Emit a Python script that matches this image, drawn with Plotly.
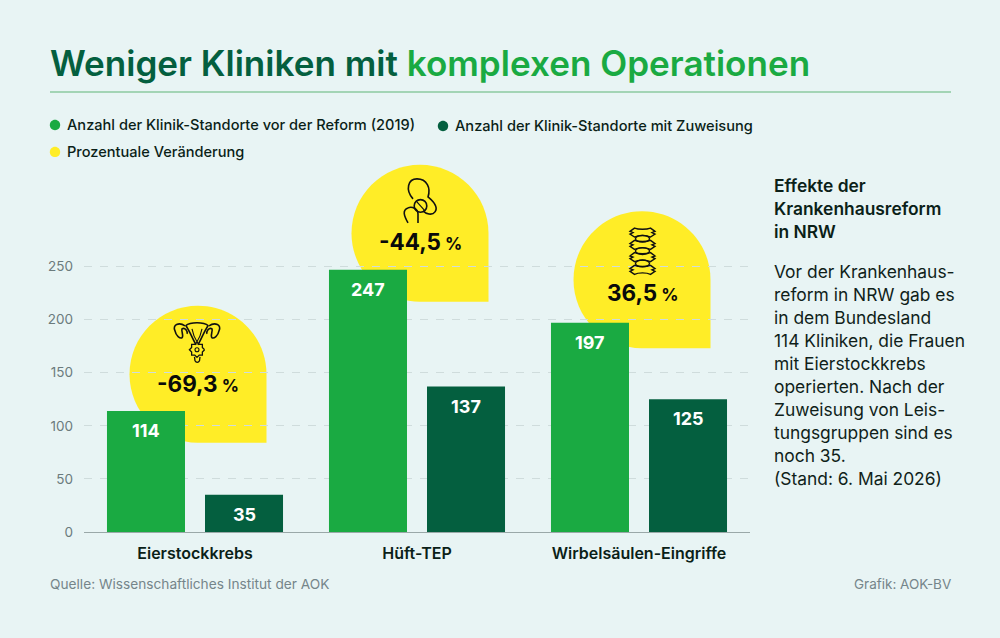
import math
import plotly.graph_objects as go

# data
categories = ["Eierstockkrebs", "Hüft-TEP", "Wirbelsäulen-Eingriffe"]
vor_reform = [114, 247, 197]
mit_zuweisung = [35, 137, 125]
veraenderung = ["-69,3", "-44,5", "36,5"]
y_ticks = [0, 50, 100, 150, 200, 250]

legend_labels = ["Anzahl der Klinik-Standorte vor der Reform (2019)",
                 "Anzahl der Klinik-Standorte mit Zuweisung",
                 "Prozentuale Veränderung"]
side_head = ["Effekte der", "Krankenhausreform", "in NRW"]
side_text = ["Vor der Krankenhaus-", "reform in NRW gab es", "in dem Bundesland",
             "114 Kliniken, die Frauen", "mit Eierstockkrebs", "operierten. Nach der",
             "Zuweisung von Leis-", "tungsgruppen sind es", "noch 35.", "(Stand: 6. Mai 2026)"]

W, H = 1000, 638
ML, MR, MB = 84, 250, 105.7
BG = "#e8f4f4"
GREEN = "#1aaa42"
DARK = "#045f3f"
YELLOW = "#ffed27"
INK = "#0b1f18"
FONT = "Inter"


# paper coordinates are relative to the plot area, so convert from picture pixels
def px(x):
    return (x - ML) / (W - ML - MR)


def py(y):
    return (H - MB - y) / (H - MB)


def label(x, y, text, size=14, color=INK, anchor="left", weight=400):
    return dict(xref="paper", yref="paper", x=px(x), y=py(y), text=text, showarrow=False,
                xanchor=anchor, yanchor="middle", borderpad=0,
                font=dict(family=FONT, size=size, color=color, weight=weight))


def paper_path(cmds):
    # cmds: list of (letter, [x, y, x, y ...]) in picture pixels
    out = ""
    for c, pts in cmds:
        out += c
        out += " ".join(f"{px(pts[i]):.5f},{py(pts[i + 1]):.5f}" for i in range(0, len(pts), 2))
    return out


def icon(cmds, width=1.6):
    return dict(type="path", xref="paper", yref="paper", path=paper_path(cmds), layer="above",
                line=dict(color="#111111", width=width))


def ring(cx, cy, rx, ry=None):
    ry = ry or rx
    k = 0.5523
    return [("M", [cx - rx, cy]),
            ("C", [cx - rx, cy - k * ry, cx - k * rx, cy - ry, cx, cy - ry]),
            ("C", [cx + k * rx, cy - ry, cx + rx, cy - k * ry, cx + rx, cy]),
            ("C", [cx + rx, cy + k * ry, cx + k * rx, cy + ry, cx, cy + ry]),
            ("C", [cx - k * rx, cy + ry, cx - rx, cy + k * ry, cx - rx, cy]),
            ("Z", [])]


def pin_path(dx, dy, r):
    # teardrop: circle with a square lower right corner, pixels relative to anchor, y up
    k = 0.5523 * r
    return (f"M{dx - r},{dy} "
            f"C{dx - r},{dy + k} {dx - k},{dy + r} {dx},{dy + r} "
            f"C{dx + k},{dy + r} {dx + r},{dy + k} {dx + r},{dy} "
            f"L{dx + r},{dy - r} L{dx},{dy - r} "
            f"C{dx - k},{dy - r} {dx - r},{dy - k} {dx - r},{dy} Z")


fig = go.Figure()
fig.add_trace(go.Bar(x=categories, y=vor_reform, name=legend_labels[0], marker_color=GREEN,
                     marker_line_width=0))
fig.add_trace(go.Bar(x=categories, y=mit_zuweisung, name=legend_labels[1], marker_color=DARK,
                     marker_line_width=0))

shapes = []
annotations = []

# yellow pins, behind the bars but over the grid
pin_pos = [(3, 157.8), (3, 298.8), (3, 252.3)]
pin_r = 68.5
for cat, (dx, dy) in zip(categories, pin_pos):
    shapes.append(dict(type="path", xref="x", yref="y", xsizemode="pixel", ysizemode="pixel",
                       xanchor=cat, yanchor=0, path=pin_path(dx, dy, pin_r), layer="below",
                       fillcolor=YELLOW, line=dict(width=0)))

# percent labels
pct_xy = [(197.5, 384), (420.5, 242), (642.5, 293)]
for (x, y), v in zip(pct_xy, veraenderung):
    annotations.append(label(x, y, f"<b>{v}</b><span style='font-size:17px'> %</span>",
                             size=22.5, color="#0a0a0a", anchor="center", weight=700))

# value labels in the bars
for i, cat in enumerate(categories):
    for vals, shift in ((vor_reform, -49), (mit_zuweisung, 49)):
        annotations.append(dict(x=cat, y=vals[i], xref="x", yref="y", xshift=shift, yshift=-19.5,
                                text=str(vals[i]), showarrow=False, yanchor="middle",
                                font=dict(family=FONT, size=18, color="white", weight=700)))

# title + rule
annotations.append(label(48.5, 63, f"<span style='color:{DARK}'>Weniger Kliniken mit </span>"
                                   f"<span style='color:{GREEN}'>komplexen Operationen</span>",
                         size=35.1, weight=600))
shapes.append(dict(type="line", xref="paper", yref="paper", x0=px(50), x1=px(951), y0=py(92),
                   y1=py(92), line=dict(color="#8ccaa0", width=1.5), layer="above"))

# legend
legend_xy = [(55, 125), (443, 126), (55, 152)]
legend_cols = [GREEN, DARK, YELLOW]
for (x, y), txt, col in zip(legend_xy, legend_labels, legend_cols):
    shapes.append(dict(type="path", xref="paper", yref="paper", path=paper_path(ring(x, y, 5.2)),
                       fillcolor=col, line=dict(width=0), layer="above"))
    annotations.append(label(x + 11, y + 0.5, txt, size=14.6, weight=500))

# text on the right
for i, line in enumerate(side_head):
    annotations.append(label(772.5, 185.5 + i * 23.3, line, size=17.4, weight=600))
for i, line in enumerate(side_text):
    annotations.append(label(772.5, 272 + i * 23.0, line, size=17.4, color="#101f1a"))

# footer
annotations.append(label(49, 584, "Quelle: Wissenschaftliches Institut der AOK", size=13.7,
                         color="#75858a"))
annotations.append(label(952.5, 584, "Grafik: AOK-BV", size=13.5, color="#75858a", anchor="right"))

# icon: hip
shapes.append(icon([("M", [413, 199]), ("C", [405, 190, 408, 179, 417, 179]),
                    ("C", [427, 179, 431, 188, 428, 197]), ("C", [434, 202, 438, 208, 435, 212]),
                    ("C", [432, 216, 426, 214, 423, 211])]))
shapes.append(icon(ring(420.5, 206, 6.3)))
shapes.append(icon([("M", [408, 223]), ("C", [404, 216, 402, 210, 408, 208]),
                    ("C", [412, 206, 418, 209, 418, 214]), ("L", [418, 223])]))
shapes.append(icon([("M", [416, 201]), ("L", [425, 211])], width=1.2))

# icon: ovaries
c = 197
for s in (-1, 1):
    shapes.append(icon([("M", [c + s * 12, 326]), ("C", [c + s * 18, 322, c + s * 25, 325, c + s * 22, 331]),
                        ("C", [c + s * 21, 336, c + s * 17, 339, c + s * 15, 338]),
                        ("C", [c + s * 13, 336, c + s * 16, 331, c + s * 15, 329]),
                        ("C", [c + s * 12, 327, c + s * 9, 332, c + s * 10, 334])]))
    shapes.append(icon([("M", [c + s * 11, 326]), ("C", [c + s * 7, 332, c + s * 4, 340, c + s * 1, 345])]))
    shapes.append(icon([("M", [c + s * 5, 329]), ("C", [c + s * 4, 334, c + s * 2, 339, c, 342])], width=1.1))
shapes.append(icon([("M", [c - 11.5, 326]), ("C", [c - 6.5, 322, c + 6.5, 322, c + 11.5, 326])]))
gear = []
for i in range(17):
    a = i * 2 * math.pi / 16
    r = 7.6 if i % 2 == 0 else 5.8
    gear.append(("M" if i == 0 else "L", [c + r * math.cos(a), 350 + r * math.sin(a)]))
shapes.append(icon(gear, width=1.3))
shapes.append(icon(ring(c, 350, 2, 2), width=1.1))
shapes.append(icon([("M", [c - 2.5, 357]), ("L", [c - 2, 361]), ("C", [c - 1, 363, c + 1.5, 363, c + 2.5, 361]),
                    ("L", [c + 3, 357])], width=1.3))

# icon: spine
for yc in (232.7, 245, 257.3, 270):
    c = 642.5
    shapes.append(icon([("M", [c - 8, yc - 4.5]), ("C", [c - 4, yc - 3, c + 4, yc - 3, c + 8, yc - 4.5]),
                        ("L", [c + 12.5, yc - 1.2]), ("L", [c + 9.5, yc]), ("L", [c + 12.5, yc + 1.5]),
                        ("L", [c + 8, yc + 4.5]), ("C", [c + 4, yc + 2.5, c - 4, yc + 2.5, c - 8, yc + 4.5]),
                        ("L", [c - 12.5, yc + 1.5]), ("L", [c - 9.5, yc]), ("L", [c - 12.5, yc - 1.2]),
                        ("Z", [])], width=1.4))
for yc in (238.9, 251.2, 263.6):
    shapes.append(icon(ring(642.5, yc, 7, 3.4), width=1.4))

fig.update_layout(
    width=W, height=H, showlegend=False,
    margin=dict(l=ML, r=MR, t=0, b=MB, pad=0),
    paper_bgcolor=BG, plot_bgcolor=BG,
    barmode="group", bargap=0.117, bargroupgap=0.204,
    shapes=shapes, annotations=annotations,
    xaxis=dict(type="category", showgrid=False, showline=False, zeroline=False,
               ticks="outside", ticklen=0, ticklabelstandoff=7,
               tickfont=dict(family=FONT, size=16, color=INK, weight=600)),
    yaxis=dict(range=[0, 501], tickvals=y_ticks, showline=False, gridcolor="#cfdcdc", griddash="8px,8px",
               gridwidth=1, zeroline=True, zerolinecolor="#9aa8a8", zerolinewidth=1,
               ticks="", ticklabelstandoff=10,
               tickfont=dict(family=FONT, size=13.5, color="#6b7b7d")),
)

fig.write_html("out.html", config={"displayModeBar": False},
               post_script="document.body.style.margin = '0';")
